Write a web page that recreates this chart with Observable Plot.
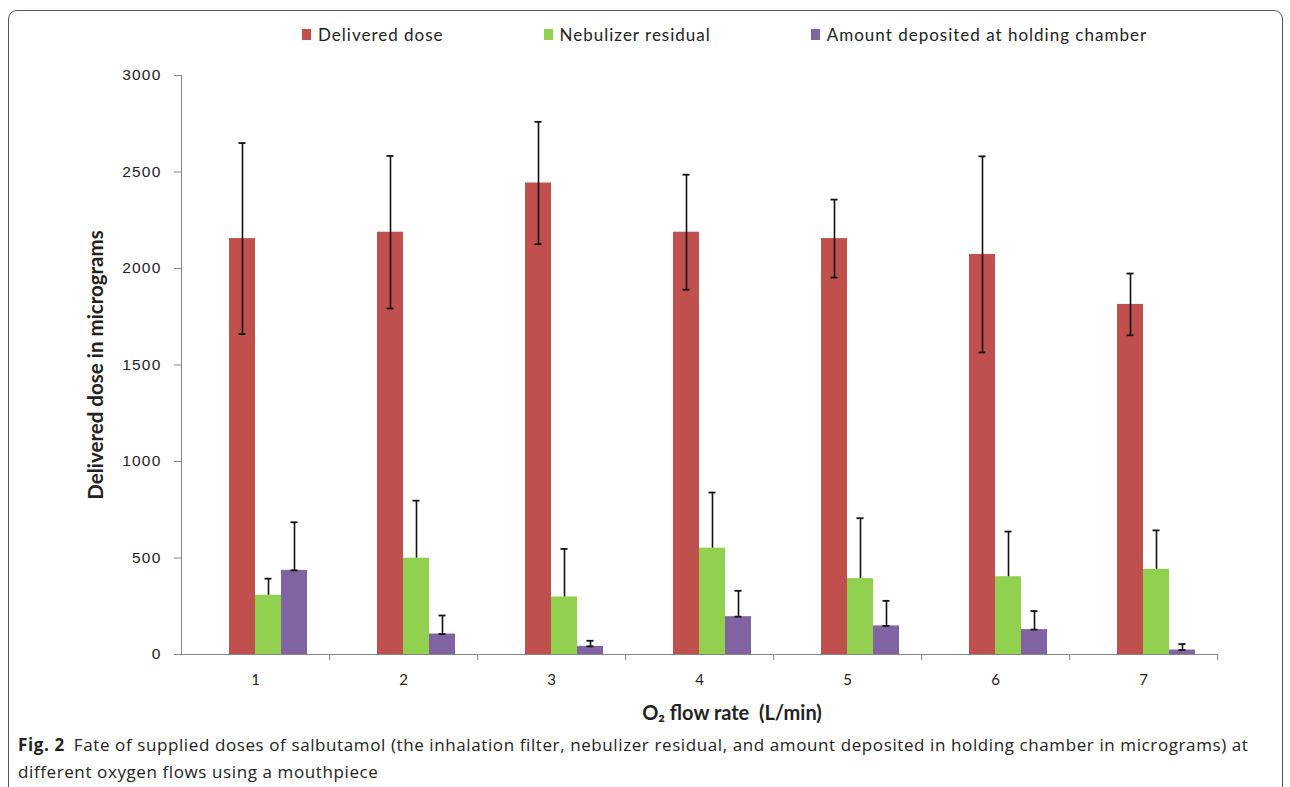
<!DOCTYPE html>
<html><head><meta charset="utf-8">
<script src="https://cdn.jsdelivr.net/npm/d3@7"></script>
<script src="https://cdn.jsdelivr.net/npm/@observablehq/plot@0.6"></script>
<style>
body{margin:0;background:#fff;}
#wrap{position:relative;width:1290px;height:787px;overflow:hidden;background:#fff;}
#box{position:absolute;left:8px;top:10px;width:1273px;height:830px;border:1px solid #555;border-radius:9px;}
#legend{position:absolute;left:302px;top:24px;display:flex;gap:100px;font-family:Lato, sans-serif;font-size:17px;letter-spacing:1px;color:#222;white-space:nowrap;}
.item{display:flex;align-items:center;gap:7px}
.sw{width:9px;height:11px;display:inline-block}
#chart{position:absolute;left:0;top:55px;}
#chart svg{background:none !important;}
#xlabel{position:absolute;left:732px;top:700px;transform:translateX(-50%);font-family:Lato, sans-serif;font-weight:bold;font-size:20px;color:#222;white-space:pre;}
#caption{position:absolute;left:18px;top:731px;font-family:"Open Sans",sans-serif;font-size:17px;letter-spacing:0.6px;line-height:27px;color:#222;white-space:nowrap;}
#chart svg g[aria-label="y-axis tick label"] text{letter-spacing:1.2px;}
</style></head>
<body><div id="wrap"><div id="box"></div><div id="legend"></div><div id="chart"></div><div id="xlabel"></div><div id="caption"></div></div>
<script>
const flows = [1, 2, 3, 4, 5, 6, 7];
const series = ["Delivered dose", "Nebulizer residual", "Amount deposited at holding chamber"];
const colors = ["#C0504D", "#92D050", "#8064A2"];
const delivered = [2155, 2188, 2443, 2188, 2155, 2073, 1814];
const deliveredErr = [495, 395, 317, 298, 202, 508, 160];
const residual = [307, 499, 298, 551, 393, 403, 441];
const residualErr = [86, 298, 249, 288, 313, 234, 202];
const chamber = [436, 106, 42, 196, 148, 129, 23];
const chamberErr = [249, 96, 29, 134, 130, 96, 31];
const yTicks = [0, 500, 1000, 1500, 2000, 2500, 3000];
const twoSided = ["Delivered dose"];
const lowerCap = ["Delivered dose", "Amount deposited at holding chamber"];
const yLabel = "Delivered dose in micrograms";
const xLabel = "O\u2082 flow rate  (L/min)";
const captionBold = "Fig. 2";
const captionLine1 = "Fate of supplied doses of salbutamol (the inhalation filter, nebulizer residual, and amount deposited in holding chamber in micrograms) at";
const captionLine2 = "different oxygen flows using a mouthpiece";

const values = [delivered, residual, chamber];
const errs = [deliveredErr, residualErr, chamberErr];
const rows = flows.flatMap((f, i) => series.map((s, k) => {
  const v = values[k][i], e = errs[k][i];
  return {flow: f, series: s, value: v, hi: v + e, lo: twoSided.includes(s) ? v - e : v};
}));

// legend
const leg = document.getElementById("legend");
series.forEach((s, k) => {
  const it = document.createElement("div"); it.className = "item";
  const sw = document.createElement("span"); sw.className = "sw"; sw.style.background = colors[k];
  const tx = document.createElement("span"); tx.textContent = s;
  it.append(sw, tx); leg.append(it);
});
// x axis title and caption
document.getElementById("xlabel").textContent = xLabel;
const cap = document.getElementById("caption");
const b = document.createElement("b"); b.textContent = captionBold;
cap.append(b, document.createTextNode("\u2002" + captionLine1), document.createElement("br"), document.createTextNode(captionLine2));

const W = 1290, H = 674, mL = 180, mR = 72, mT = 20, mB = 75;
const halfStep = (W - mL - mR) / flows.length / 2;
const gray = "#868686";

const chart = Plot.plot({
  width: W, height: H,
  marginLeft: mL, marginRight: mR, marginTop: mT, marginBottom: mB,
  style: {fontFamily: "Lato, sans-serif", background: "none", color: "#222"},
  fx: {domain: flows, paddingInner: 0, paddingOuter: 0},
  x: {domain: series, paddingInner: 0, paddingOuter: 1.25, align: 0.69, axis: null},
  y: {domain: [0, 3000]},
  color: {domain: series, range: colors},
  marks: [
    Plot.frame({anchor: "left", facetAnchor: "left", stroke: gray}),
    Plot.barY(rows, {fx: "flow", x: "series", y: "value", fill: "series"}),
    Plot.ruleY([0], {stroke: gray, strokeWidth: 1.2}),
    Plot.ruleX(rows, {fx: "flow", x: "series", y1: "lo", y2: "hi", stroke: "#111", strokeWidth: 1.6}),
    Plot.tickY(rows, {fx: "flow", x: "series", y: "hi", stroke: "#111", strokeWidth: 1.8, insetLeft: 9.5, insetRight: 9.5}),
    Plot.tickY(rows.filter(d => lowerCap.includes(d.series)), {fx: "flow", x: "series", y: "lo", stroke: "#111", strokeWidth: 1.8, insetLeft: 9.5, insetRight: 9.5}),
    Plot.axisY({ticks: yTicks, tickSize: 7, tickPadding: 13, tickFormat: d3.format("d"), stroke: gray, fill: "#222", fontSize: 15.5, fontFamily: "Liberation Sans, Arial, sans-serif", label: null}),
    Plot.axisY({ticks: yTicks, tickSize: 0, tickFormat: () => "", label: yLabel, labelArrow: "none", labelAnchor: "center", labelOffset: 93, fontWeight: "bold", fontSize: 20.5}),
    Plot.axisFx({anchor: "bottom", tickSize: 6, tickFormat: () => "", stroke: gray, dx: halfStep, label: null}),
    Plot.axisFx({anchor: "bottom", tickSize: 0, tickPadding: 20, fontSize: 15, label: null})
  ]
});
document.getElementById("chart").append(chart);
</script>
</body></html>
